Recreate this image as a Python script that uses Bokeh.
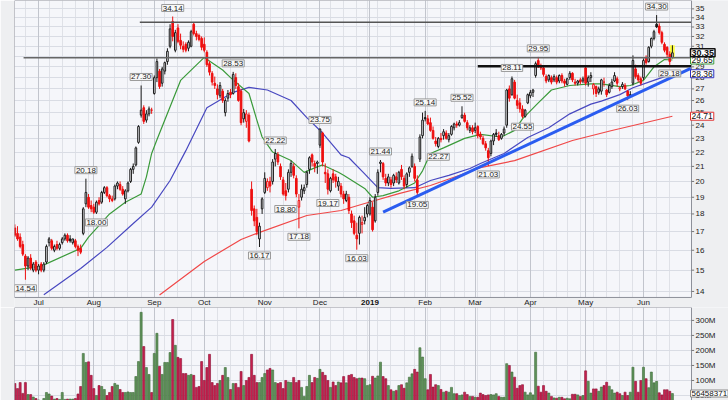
import numpy as np
import pandas as pd
from bokeh.plotting import figure
from bokeh.layouts import column
from bokeh.models import Range1d, FixedTicker, Grid, Label
from bokeh.core.properties import value
from bokeh.embed import file_html
from bokeh.resources import INLINE

# ---------------- daily bars: (open, high, low, close, volume in millions) ----------------
jun18 = [(17.2,17.4,16.7,16.8,90),(16.9,17.3,16.5,16.6,73),(16.7,16.9,16.1,16.2,93),(16.3,16.5,15.7,15.8,57),
         (15.7,15.8,14.54,15.2,93),(15.2,15.7,15.0,15.6,53),(15.6,15.8,15.0,15.1,53),(15.0,15.4,14.9,15.3,45),
         (15.4,15.5,14.9,15.0,40)]
jul18 = [(15.0,15.3,14.8,15.2,35),(15.3,15.4,14.9,15.0,33),(15.0,15.4,14.9,15.3,40),(15.4,16.3,15.3,16.2,60),(16.4,16.7,16.2,16.6,55),
         (16.5,16.6,16.0,16.1,48),(16.0,16.3,15.9,16.2,38),(16.3,16.5,16.0,16.1,40),(16.1,16.4,16.0,16.3,37),(16.4,16.7,16.3,16.6,60),
         (16.6,16.9,16.5,16.8,37),(16.8,16.9,16.4,16.5,38),(16.6,16.8,16.4,16.5,38),(16.4,16.6,16.3,16.6,38),(16.5,16.6,16.1,16.2,40),
         (16.2,16.3,15.7,16.0,55),(16.1,16.3,15.8,15.9,80),(16.9,18.4,16.8,18.3,190),(18.6,20.18,18.4,19.3,160),(19.0,19.2,18.3,18.4,162),
         (18.5,18.8,18.1,18.3,117)]
aug18 = [(18.4,18.6,18.0,18.1,73),(18.1,18.8,18.0,18.7,50),(18.8,19.0,18.5,18.6,83),(18.7,19.4,18.6,19.3,80),(19.3,19.7,19.2,19.6,70),
         (19.6,19.7,19.0,19.1,50),(19.1,19.2,18.7,18.9,60),(18.9,19.1,18.7,18.8,80),(18.9,19.8,18.8,19.7,90),(19.7,20.0,19.5,19.9,85),
         (19.8,20.0,19.4,19.5,70),(19.5,19.7,19.1,19.2,60),(18.9,19.5,18.6,19.4,60),(19.4,20.0,19.3,19.9,62),(20.0,20.9,19.9,20.8,60),
         (20.8,21.2,20.5,21.0,60),(21.1,22.4,21.0,22.3,113),(22.7,24.0,22.6,23.9,163),(24.8,27.30,24.6,25.2,327),(25.4,25.6,24.1,24.3,213),
         (24.4,25.2,24.2,24.9,143),(24.9,25.5,24.7,25.3,120),(25.2,25.4,24.9,25.2,60)]
sep18 = [(26.6,28.2,26.5,28.0,190),(28.0,29.8,27.6,29.5,257),(28.6,28.8,27.0,27.2,147),(27.5,29.0,27.2,28.8,120),(28.6,29.5,28.3,29.4,160),
         (29.5,30.8,29.2,30.5,160),(31.0,33.3,30.8,32.8,193),(33.6,34.14,31.5,32.0,303),(30.6,32.7,30.4,32.4,217),(32.9,33.3,31.3,31.5,177),
         (31.6,32.3,30.7,31.1,173),(31.0,31.5,30.4,30.7,123),(31.2,31.4,30.4,30.6,123),(30.8,31.6,30.5,31.4,117),(31.0,32.7,30.9,32.5,120),
         (33.3,33.5,32.1,32.3,117),(32.3,32.6,31.6,32.0,77),(32.1,32.3,31.5,31.7,80),(31.8,32.0,30.6,30.9,163)]
oct18 = [(31.2,31.9,30.4,30.6,100),(30.4,30.6,29.0,29.2,143),(29.3,29.5,28.2,28.5,187),(28.4,28.6,27.3,27.6,93),(27.5,28.1,27.0,27.3,83),
         (27.0,27.4,26.1,26.5,90),(26.4,27.6,26.2,27.3,100),(26.8,27.0,25.8,26.0,117),(25.0,26.2,24.7,26.0,143),(26.2,26.9,25.9,26.6,110),
         (26.7,27.0,26.2,26.5,70),(26.6,28.53,26.5,28.3,90),(28.0,28.4,27.0,27.3,90),(27.2,27.5,25.9,26.0,77),(26.8,27.0,24.0,24.2,130),
         (24.5,25.3,24.2,25.0,83),(24.3,25.2,23.8,24.9,100),(24.8,25.0,22.7,22.8,110),(19.5,20.0,17.9,18.2,187),(18.3,18.5,17.3,17.6,117),
         (17.8,18.3,16.8,17.0,93),(16.6,17.5,16.17,17.3,93),(18.3,19.0,18.0,18.9,110)]
nov18 = [(19.3,20.6,19.2,20.2,123),(19.6,20.2,19.4,20.0,135),(20.0,20.3,19.3,19.7,140),(20.0,21.5,19.8,21.3,135),(21.5,22.22,21.0,21.9,93),
         (21.8,22.0,21.1,21.3,90),(21.0,21.2,20.1,20.3,93),(20.1,20.3,19.1,19.2,73),(19.4,19.9,18.8,19.1,100),(19.5,20.8,19.3,20.6,95),
         (20.6,21.4,20.3,21.2,93),(21.0,21.2,20.2,20.4,110),(20.2,20.4,19.0,19.2,93),(18.4,19.2,17.18,18.8,100),(19.0,19.8,18.8,19.5,77),
         (19.4,19.8,19.2,19.6,47),(19.8,20.7,19.6,20.6,80),(20.8,21.7,20.5,21.6,117),(21.8,21.9,21.0,21.3,93),(21.2,21.4,20.6,21.0,110),
         (21.2,21.4,20.5,21.3,107)]
dec18 = [(22.5,23.75,22.3,23.7,137),(23.4,23.5,21.0,21.3,127),(20.6,21.2,19.9,20.5,117),(20.5,20.8,19.17,19.5,100),(19.4,20.3,19.3,20.2,77),
         (20.5,20.8,19.9,20.1,95),(20.3,20.5,19.6,20.0,83),(19.7,20.3,19.4,20.0,95),(19.7,19.9,19.0,19.2,92),(19.2,19.4,18.6,18.9,113),
         (18.8,19.4,18.7,19.2,92),(19.0,19.2,18.0,18.2,117),(18.0,18.2,17.2,17.5,120),(17.6,17.9,16.8,16.9,110),(16.8,17.5,16.03,16.6,106),
         (16.9,17.9,16.3,17.8,108),(17.4,17.9,16.9,17.5,108),(17.6,18.4,17.4,17.8,106),(18.0,18.6,17.8,18.5,83)]
jan19 = [(18.0,19.0,17.9,18.8,86),(18.4,18.7,17.0,17.1,114),(17.6,19.2,17.5,19.0,108),(19.3,20.8,19.1,20.6,115),(21.2,21.44,20.6,21.3,161),
         (21.2,21.3,20.1,20.3,113),(20.2,20.5,19.7,19.9,106),(19.9,20.5,19.7,20.3,83),(20.1,20.3,19.6,19.8,69),(19.9,20.5,19.7,20.4,64),
         (20.3,20.6,19.9,20.1,67),(19.9,20.7,19.8,20.6,83),(20.8,21.1,20.1,20.3,86),(20.2,20.4,19.5,19.7,74),(19.8,20.6,19.6,20.5,92),
         (20.6,21.0,20.3,20.9,111),(21.0,21.9,20.9,21.7,122),(21.0,21.2,20.0,20.2,137),(20.1,20.4,19.05,19.3,128),(21.5,23.3,21.3,23.1,209),
         (23.2,25.0,23.0,24.4,178)]
feb19 = [(24.6,25.14,24.3,24.5,106),(24.5,24.8,24.0,24.1,69),(24.2,24.6,23.5,23.6,120),(23.6,23.9,22.9,23.0,78),(22.8,23.1,22.4,22.6,86),
         (22.4,23.1,22.27,23.0,83),(23.0,23.4,22.7,22.9,70),(23.2,23.7,22.9,23.5,61),(23.4,23.6,22.9,23.0,64),(22.9,23.4,22.7,23.2,61),
         (23.3,24.0,23.2,23.9,77),(23.8,24.2,23.6,24.1,56),(24.1,24.3,23.8,24.0,56),(24.0,24.4,23.9,24.2,50),(24.6,25.52,24.5,24.8,52),
         (24.8,25.0,24.2,24.3,61),(24.2,24.4,23.6,23.8,53),(23.6,24.0,23.4,23.8,47),(23.8,24.0,23.3,23.5,47)]
mar19 = [(23.6,24.2,23.4,23.8,44),(23.9,24.0,23.0,23.2,44),(23.3,23.5,22.9,23.1,58),(23.0,23.2,22.5,22.6,53),(22.6,22.8,22.1,22.3,50),
         (22.1,22.3,21.03,21.6,52),(21.9,22.9,21.7,22.8,53),(22.8,23.4,22.5,23.3,52),(23.4,23.7,23.1,23.3,56),(23.2,23.5,22.8,22.9,47),
         (23.0,23.4,22.9,23.3,44),(23.4,23.9,23.2,23.7,44),(24.0,27.0,23.8,26.9,156),(27.0,27.3,25.9,26.2,150),(26.5,28.11,26.4,27.9,128),
         (27.6,27.8,26.1,26.2,111),(26.0,26.5,25.3,25.6,74),(25.8,26.2,25.0,25.3,83),(25.3,25.6,24.55,24.7,86),(24.7,25.3,24.6,25.2,61),
         (25.8,26.6,25.7,26.5,52)]
apr19 = [(26.4,26.9,26.2,26.7,59),(26.7,27.0,26.3,26.9,52),(28.2,29.5,28.0,29.3,194),(29.6,29.95,28.9,29.0,81),(29.0,29.3,28.7,28.9,61),
         (28.9,29.0,28.1,28.3,83),(28.1,28.3,27.5,27.7,64),(27.8,28.3,27.6,28.2,58),(28.0,28.2,27.4,27.6,47),(27.8,28.3,27.6,28.1,42),
         (28.0,28.2,27.4,27.6,41),(27.7,28.3,27.5,28.2,44),(28.2,28.4,27.5,27.7,44),(27.7,27.9,27.2,27.5,39),(27.4,28.0,27.3,27.9,41),
         (28.0,28.6,27.8,28.4,39),(28.4,28.5,27.6,27.8,54),(27.6,27.9,27.3,27.5,54),(27.5,27.8,27.3,27.7,52),(27.8,28.0,27.4,27.6,47),
         (27.7,28.1,27.5,27.9,50)]
may19 = [(28.9,29.1,27.3,27.5,132),(27.6,28.2,27.2,28.0,97),(28.0,28.5,27.6,28.2,58),(27.0,27.5,26.5,27.4,72),(27.2,27.3,26.3,26.6,72),
         (26.7,27.2,26.5,27.0,64),(26.8,27.9,26.5,27.8,78),(27.6,28.0,27.2,27.6,83),(26.9,27.0,26.3,26.5,94),(26.7,27.5,26.6,27.3,81),
         (27.2,27.9,27.0,27.6,69),(27.7,28.5,27.6,28.2,58),(27.9,28.1,27.2,27.5,61),(27.0,27.2,26.8,27.1,56),(27.2,27.6,27.0,27.4,50),
         (27.3,27.5,26.9,27.0,61),(26.8,26.9,26.03,26.4,50),(26.5,26.8,26.3,26.4,61),(27.5,30.1,27.3,29.6,144),(28.8,29.2,27.9,28.1,97),
         (28.2,28.4,27.6,27.8,61),(27.9,28.1,27.3,27.5,100)]
jun19 = [(28.0,29.8,27.8,29.6,144),(29.9,30.1,29.2,29.4,106),(29.5,31.0,29.4,30.9,76),(31.0,31.9,30.8,31.8,128),(31.8,32.7,31.6,32.5,92),
         (33.3,34.30,32.9,33.0,97),(33.1,33.4,32.2,32.4,59),(32.4,32.6,31.2,31.4,52),(31.2,31.4,30.4,30.6,69),(30.9,31.0,29.9,30.2,69),
         (30.2,30.5,29.18,29.5,64),(29.9,31.1,29.8,30.35,56.458371)]

# market holidays inside the window
holidays = ["2018-07-04", "2018-09-03", "2018-11-22", "2018-12-05", "2018-12-25",
            "2019-01-01", "2019-01-21", "2019-02-18", "2019-04-19", "2019-05-27"]

# moving averages: (trading day counted from 2 Jul 2018, value)
ma20_day = [-9, 1, 16, 19, 27, 33, 39, 41, 43, 45, 54, 63, 70, 73, 80, 83, 85, 89, 96, 101,
            105, 108, 114, 116, 124, 127, 131, 137, 143, 146, 149, 154, 162, 168, 176, 181, 184, 190, 195, 202,
            210, 214, 221, 225, 230, 234, 238, 241]
ma20_val = [15.0, 15.2, 16.1, 16.7, 18.0, 18.7, 19.2, 20.3, 21.9, 22.9, 27.75, 29.9, 28.7, 28.0, 26.6, 24.4, 23.1, 22.0, 21.4, 20.6,
            20.9, 21.1, 20.6, 20.4, 19.55, 19.0, 19.1, 19.4, 19.9, 20.7, 21.9, 22.3, 23.0, 23.3, 23.1, 23.6, 24.5, 25.8, 26.9, 27.3,
            27.45, 27.45, 27.2, 27.3, 27.75, 29.0, 29.7, 29.65]
ma50_day = [2, 16, 26, 36, 43, 50, 56, 64, 74, 80, 87, 96, 102, 108, 115, 118, 124, 129, 134, 143,
            149, 156, 164, 168, 177, 186, 194, 202, 210, 214, 221, 226, 232, 237, 241]
ma50_val = [13.85, 15.08, 16.15, 17.45, 18.4, 20.06, 22.1, 25.4, 26.7, 27.13, 26.9, 26.0, 24.6, 23.4, 21.8, 21.6, 20.5, 19.6, 19.56, 19.6,
            20.06, 20.4, 20.86, 21.2, 21.9, 23.06, 23.8, 24.9, 25.7, 25.95, 26.5, 27.1, 27.6, 28.0, 28.36]
ma200_day = [46, 63, 77, 83, 102, 115, 124, 137, 149, 162, 168, 181, 203, 218, 241]
ma200_val = [13.84, 15.43, 16.57, 16.9, 17.91, 18.2, 18.62, 19.23, 19.74, 20.52, 20.92, 21.4, 22.84, 23.59, 24.71]

# drawn levels: price, first trading day (from 2 Jul 2018)
level_price = [33.5, 29.87, 29.05]
level_start = [38.5, -5.7, 167]
# trend line end points
trend_day = [131, 248]
trend_val = [18.1, 28.85]

# annotated swing highs / lows (trading day from 2 Jul 2018)
peak_days = [18, 39, 51, 74, 90, 107, 130, 147, 161, 180, 190, 235]
trough_days = [-5, 22, 84, 94, 99, 110, 121, 144, 152, 171, 184, 224, 240]

month_labels = ["Jul", "Aug", "Sep", "Oct", "Nov", "Dec", "2019", "Feb", "Mar", "Apr", "May", "Jun"]
price_ticks = list(range(14, 36))
vol_ticks = [50, 100, 150, 200, 250, 300]

# ---------------- derived ----------------
bars = jun18 + jul18 + aug18 + sep18 + oct18 + nov18 + dec18 + jan19 + feb19 + mar19 + apr19 + may19 + jun19
dates = [d for d in pd.bdate_range("2018-06-19", "2019-06-18") if d.strftime("%Y-%m-%d") not in holidays]
n = len(bars)
pos = np.arange(n)
t0 = [d.strftime("%Y-%m-%d") for d in dates].index("2018-07-02")

O = np.array([b[0] for b in bars]); Hh = np.array([b[1] for b in bars])
L = np.array([b[2] for b in bars]); C = np.array([b[3] for b in bars])
V = np.array([b[4] for b in bars]) * 1e6

prevC = np.concatenate([[O[0]], C[:-1]])
up = C >= prevC
RED, BLK = "#ee1010", "#1a1a1a"
col = np.where(up, BLK, RED)
BG = "#f5f6fa"
BORDER = "#eeeff1"
FRAME = "#8d9099"
fill = np.where(C > O, BG, col)

month_pos = [i for i in range(1, n) if dates[i].month != dates[i - 1].month]
week_pos = [i for i in range(1, n) if dates[i].weekday() < dates[i - 1].weekday()]

FONT = "Liberation Sans"
PX = 2.63                      # screen pixels per trading day
X0 = -0.15                     # left edge of the plotting area
XE = X0 + 677 / PX             # right edge of the price/volume area (axis strip beyond)
x_rng = Range1d(X0, X0 + 714 / PX)

# price scale: plot area 0..297 px, month strip 297..307 px (log scale)
P_TOP, P_BOT, P_STRIP = 35.96, 13.73, 13.29

# ---------------- price panel ----------------
p = figure(width=728, height=307, x_range=x_rng, y_range=Range1d(P_STRIP, P_TOP), y_axis_type="log",
           x_axis_location=None, y_axis_location=None, output_backend="svg", toolbar_location=None,
           min_border_left=14, min_border_right=0, min_border_top=0, min_border_bottom=0,
           background_fill_color=BG, border_fill_color=BORDER, outline_line_color=None)

p.ygrid.ticker = FixedTicker(ticks=price_ticks)
p.ygrid.grid_line_color = "#d9dce4"
p.xgrid.ticker = FixedTicker(ticks=week_pos)
p.xgrid.grid_line_color = "#dfe1e7"
p.add_layout(Grid(dimension=0, ticker=FixedTicker(ticks=month_pos), grid_line_color="#c2c5cd"))

# moving averages
p.line(np.array(ma200_day) + t0, ma200_val, line_color="#f04848", line_width=1.2)
p.line(np.array(ma50_day) + t0, ma50_val, line_color="#4848c0", line_width=1.2)
p.line(np.array(ma20_day) + t0, ma20_val, line_color="#3a9a3a", line_width=1.2)

# last-bar highlight
p.quad(left=pos[-1] - 0.9, right=pos[-1] + 0.9, top=Hh[-1], bottom=L[-1], fill_color="#ffff40", line_color=None)

# candles
p.segment(x0=pos, y0=Hh, x1=pos, y1=L, line_color=col, line_width=1)
p.vbar(x=pos, width=0.62, top=np.maximum(O, C), bottom=np.minimum(O, C), fill_color=fill, line_color=col, line_width=1)

# levels and trend line
for lp, ls, lc, lw in zip(level_price, level_start, ["#555555", "#666666", "#111111"], [1.5, 1.5, 2.5]):
    p.segment(x0=ls + t0, y0=lp, x1=XE, y1=lp, line_color=lc, line_width=lw)
p.line(np.array(trend_day) + t0, trend_val, line_color="#2a5cf0", line_width=3)

# axis strip on the right and month strip at the bottom
p.quad(left=XE, right=x_rng.end + 1, top=P_TOP + 1, bottom=P_STRIP - 1, fill_color=BORDER, line_color=None)
p.quad(left=X0 - 1, right=x_rng.end + 1, top=P_BOT, bottom=P_STRIP - 1, fill_color=BORDER, line_color=None)
p.quad(left=X0, right=XE, top=P_TOP, bottom=P_BOT, fill_color=None, line_color=FRAME, line_width=1)

# right price axis
p.segment(x0=XE, y0=price_ticks, x1=XE + 1.0, y1=price_ticks, line_color="#777777")
p.text(x=XE, y=price_ticks, text=[str(t) for t in price_ticks], x_offset=4, text_align="left",
       text_baseline="middle", text_font=value(FONT), text_font_size="8px", text_color="#222222")

# month labels
mp_plain = [m for m, lab in zip(month_pos, month_labels) if lab != "2019"]
lab_plain = [lab for lab in month_labels if lab != "2019"]
y_strip = 13.52
p.text(x=mp_plain, y=[y_strip] * len(mp_plain), text=lab_plain, text_align="center", text_baseline="middle",
       text_font=value(FONT), text_font_size="8px", text_color="#222222")
p.text(x=[month_pos[month_labels.index("2019")]], y=[y_strip], text=["2019"], text_align="center",
       text_baseline="middle", text_font=value(FONT), text_font_size="8px", text_font_style="bold",
       text_color="#111111")

# swing labels
for d in peak_days:
    i = d + t0
    p.add_layout(Label(x=i, y=Hh[i], y_offset=5, text=f"{Hh[i]:.2f}", text_align="center", text_baseline="bottom",
                       text_font=FONT, text_font_size="8px", text_color="#222222",
                       background_fill_color="#f8f8f8", border_line_color="#9a9a9a", padding=1))
for d in trough_days:
    i = d + t0
    p.add_layout(Label(x=i, y=L[i], y_offset=-5, text=f"{L[i]:.2f}", text_align="center", text_baseline="top",
                       text_font=FONT, text_font_size="8px", text_color="#222222",
                       background_fill_color="#f8f8f8", border_line_color="#9a9a9a", padding=1))

# right-edge value tags
for val, bc, bold in [(ma20_val[-1], "#3a9a3a", False), (ma50_val[-1], "#3030c0", False),
                      (ma200_val[-1], "#e03030", False), (C[-1], "#111111", True)]:
    p.add_layout(Label(x=XE, y=val, x_offset=-1, text=f"{val:.2f}", text_align="left", text_baseline="middle",
                       text_font=FONT, text_font_size="9px" if bold else "8.5px",
                       text_font_style="bold" if bold else "normal", text_color="#111111",
                       background_fill_color="#ffffff", border_line_color=bc, border_line_width=1.5 if bold else 1,
                       padding=1))

# ---------------- volume panel ----------------
V_TOP, V_BOT = 343e6, 33.3e6
v = figure(width=728, height=93, x_range=x_rng, y_range=Range1d(V_BOT, V_TOP), x_axis_location=None,
           y_axis_location=None, output_backend="svg", toolbar_location=None,
           min_border_left=14, min_border_right=0, min_border_top=0, min_border_bottom=0,
           background_fill_color=BG, border_fill_color=BORDER, outline_line_color=None)
vt = [t * 1e6 for t in vol_ticks]
v.ygrid.ticker = FixedTicker(ticks=vt)
v.ygrid.grid_line_color = "#d9dce4"
v.xgrid.ticker = FixedTicker(ticks=week_pos)
v.xgrid.grid_line_color = "#dfe1e7"
v.add_layout(Grid(dimension=0, ticker=FixedTicker(ticks=month_pos), grid_line_color="#c2c5cd"))

vfill = np.where(up, "#5f935a", "#c8204e")
vline = np.where(up, "#3c6a38", "#8a1034")
v.vbar(x=pos, width=0.78, top=V, bottom=0, fill_color=vfill, line_color=vline, line_width=0.6)

v.quad(left=XE, right=x_rng.end + 1, top=V_TOP * 2, bottom=0, fill_color=BORDER, line_color=None)
v.quad(left=X0, right=XE, top=V_TOP, bottom=0, fill_color=None, line_color=FRAME, line_width=1)
v.segment(x0=XE, y0=vt, x1=XE + 1.0, y1=vt, line_color="#777777")
v.text(x=XE, y=vt, text=[f"{t}M" for t in vol_ticks], x_offset=4, text_align="left", text_baseline="middle",
       text_font=value(FONT), text_font_size="8px", text_color="#222222")
v.add_layout(Label(x=XE, y=V[-1], x_offset=-1, text=f"{int(round(V[-1]))}", text_align="left",
                   text_baseline="middle", text_font=FONT, text_font_size="8px", text_color="#111111",
                   background_fill_color="#ffffff", border_line_color="#888888", padding=1))

layout = column(p, v, spacing=0)
open("out.html", "w").write(file_html(layout, INLINE))
